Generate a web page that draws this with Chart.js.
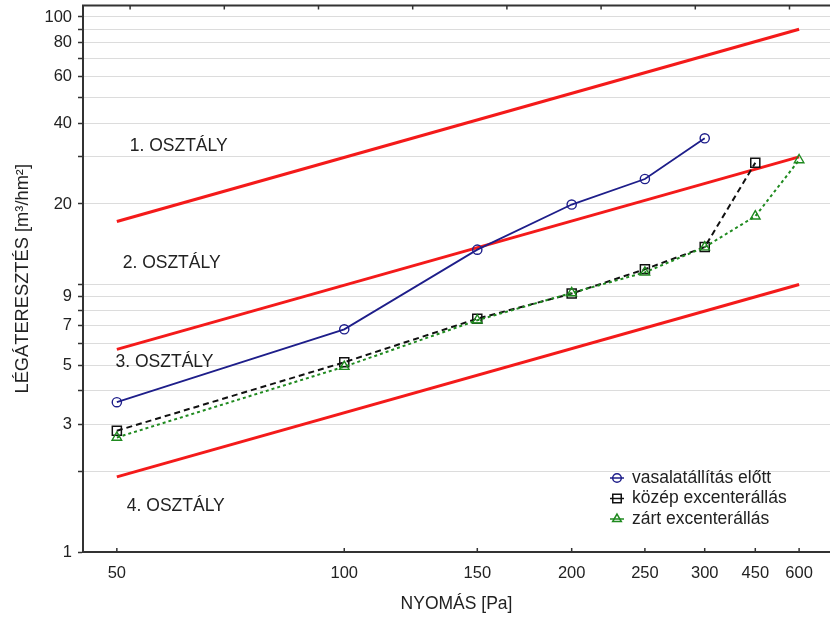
<!DOCTYPE html>
<html><head><meta charset="utf-8">
<script src="https://cdn.jsdelivr.net/npm/chart.js@4/dist/chart.umd.min.js"></script>
<style>html,body{margin:0;padding:0;background:#fff;}</style>
</head><body>
<canvas id="c" width="830" height="619" style="display:block;width:830px;height:619px"></canvas>
<script>
// ---- data ----
const xPositions = [50, 100, 150, 200, 250, 300, 350, 400];
const xTickLabels = ['50', '100', '150', '200', '250', '300', '450', '600'];
const yGridTicks = [1, 2, 3, 4, 5, 6, 7, 8, 9, 10, 20, 30, 40, 50, 60, 70, 80, 90, 100];
const yLabeledTicks = [1, 3, 5, 7, 9, 20, 40, 60, 80, 100];
const topTickValues = [1, 2, 3, 4, 5, 6, 7, 8];
const seriesNames = ['vasalatállítás előtt', 'közép excenterállás', 'zárt excenterállás'];
const beforeX = [50, 100, 150, 200, 250, 300];
const beforeVals = [3.63, 6.8, 13.5, 19.9, 24.8, 35.2];
const middleX = [50, 100, 150, 200, 250, 300, 350];
const middleVals = [2.84, 5.12, 7.45, 9.25, 11.4, 13.8, 28.5];
const closedX = [50, 100, 150, 200, 250, 300, 350, 400];
const closedVals = [2.68, 4.93, 7.35, 9.3, 11.1, 13.8, 18.0, 29.2];
const classLineX = [50, 400];
const class1Line = [17.2, 90];
const class2Line = [5.72, 30];
const class3Line = [1.91, 10];
const classLabels = ['1. OSZTÁLY', '2. OSZTÁLY', '3. OSZTÁLY', '4. OSZTÁLY'];
const classLabelX = [52, 50.9, 49.8, 51.55];
const classLabelY = [32.9, 11.98, 5.12, 1.486];

const FONT = '"Liberation Sans", Arial, sans-serif';
const pts = (xs, ys) => xs.map((x, i) => ({x: x, y: ys[i]}));

const BLUE = '#1e1e8a', BLACK = '#111111', GREEN = '#1f8a1f', RED = '#f41a1a';

const series = [
  {label: seriesNames[0], data: pts(beforeX, beforeVals), borderColor: BLUE, borderWidth: 1.8,
   pointStyle: 'circle', pointRadius: 4.6, pointBorderWidth: 1.4, pointBorderColor: BLUE,
   pointBackgroundColor: 'rgba(0,0,0,0)', order: 1},
  {label: seriesNames[1], data: pts(middleX, middleVals), borderColor: BLACK, borderWidth: 2,
   borderDash: [6, 4], pointStyle: 'rect', pointRadius: 6.4, pointBorderWidth: 1.5, pointBorderColor: BLACK,
   pointBackgroundColor: 'rgba(0,0,0,0)', order: 3},
  {label: seriesNames[2], data: pts(closedX, closedVals), borderColor: GREEN, borderWidth: 2,
   borderDash: [3, 3], pointStyle: 'triangle', pointRadius: 5.5, pointBorderWidth: 1.4, pointBorderColor: GREEN,
   pointBackgroundColor: 'rgba(0,0,0,0)', order: 2}
];
const classLines = [class1Line, class2Line, class3Line].map((ys, i) => ({
  label: 'class' + (i + 1), data: pts(classLineX, ys), borderColor: RED, borderWidth: 3,
  pointRadius: 0, order: 10
}));

function drawMarker(ctx, style, x, y, r) {
  ctx.beginPath();
  if (style === 'circle') {
    ctx.arc(x, y, r, 0, Math.PI * 2);
  } else if (style === 'rect') {
    const s = Math.SQRT1_2 * r;
    ctx.rect(x - s, y - s, 2 * s, 2 * s);
  } else if (style === 'triangle') {
    ctx.moveTo(x, y - r);
    ctx.lineTo(x + r * 0.866, y + r * 0.5);
    ctx.lineTo(x - r * 0.866, y + r * 0.5);
    ctx.closePath();
  }
  ctx.stroke();
}

const decor = {
  id: 'decor',
  afterDraw(chart) {
    const {ctx, chartArea: a, scales} = chart;
    const x = scales.x, y = scales.y, xTop = scales.xTop;
    ctx.save();
    // class labels
    ctx.font = '17.5px ' + FONT;
    ctx.fillStyle = '#222';
    ctx.textAlign = 'left';
    ctx.textBaseline = 'middle';
    classLabels.forEach((t, i) => ctx.fillText(t, x.getPixelForValue(classLabelX[i]), y.getPixelForValue(classLabelY[i])));
    // top frame line + ticks
    ctx.strokeStyle = '#333';
    ctx.lineWidth = 2;
    ctx.beginPath(); ctx.moveTo(a.left - 1, a.top); ctx.lineTo(a.right, a.top); ctx.stroke();
    ctx.lineWidth = 1.5;
    topTickValues.forEach(v => {
      const px = xTop.getPixelForValue(v);
      ctx.beginPath(); ctx.moveTo(px, a.top); ctx.lineTo(px, a.top + 4); ctx.stroke();
    });
    // bottom ticks (inward)
    xPositions.forEach(v => {
      const px = x.getPixelForValue(v);
      ctx.beginPath(); ctx.moveTo(px, a.bottom); ctx.lineTo(px, a.bottom - 4); ctx.stroke();
    });
    // legend
    const lx = a.right - 213, tx = a.right - 198;
    let ly = a.bottom - 74;
    [0, 1, 2].forEach(i => {
      const ds = chart.data.datasets[i];
      ctx.strokeStyle = ds.borderColor;
      ctx.lineWidth = 1.5;
      ctx.setLineDash([]);
      ctx.beginPath(); ctx.moveTo(lx - 7, ly); ctx.lineTo(lx + 7, ly); ctx.stroke();
      drawMarker(ctx, ds.pointStyle, lx, ly, ds.pointStyle === 'rect' ? 6 : (ds.pointStyle === 'triangle' ? 5 : 4.3));
      ctx.fillStyle = '#222';
      ctx.font = '17.5px ' + FONT;
      ctx.fillText(ds.label, tx, ly);
      ly += 20.5;
    });
    ctx.restore();
  }
};

new Chart(document.getElementById('c'), {
  type: 'line',
  data: {datasets: series.concat(classLines)},
  options: {
    responsive: false,
    animation: false,
    devicePixelRatio: 1,
    layout: {autoPadding: false, padding: {top: 5.5, left: 0, right: 0, bottom: 0}},
    elements: {line: {tension: 0, fill: false}},
    plugins: {legend: {display: false}, tooltip: {enabled: false}},
    scales: {
      x: {
        type: 'logarithmic', position: 'bottom', min: 45.1, max: 439.5,
        afterBuildTicks: s => { s.ticks = xPositions.map(v => ({value: v})); },
        afterFit: s => { s.height = 67; s.paddingLeft = 0; s.paddingRight = 0; },
        grid: {display: false, drawTicks: false},
        border: {display: true, color: '#333', width: 2},
        ticks: {autoSkip: false, maxRotation: 0, minRotation: 0, padding: 12, color: '#222',
                font: {family: FONT, size: 16.5},
                callback: v => xTickLabels[xPositions.indexOf(v)]},
        title: {display: true, text: 'NYOMÁS [Pa]', color: '#222', font: {family: FONT, size: 17.5},
                padding: {top: 0, bottom: 4}}
      },
      xTop: {
        type: 'linear', position: 'top', display: false, min: 0.5, max: 8.43
      },
      y: {
        type: 'logarithmic', position: 'left', min: 1, max: 110.4,
        afterBuildTicks: s => { s.ticks = yGridTicks.map(v => ({value: v})); },
        afterFit: s => { s.width = 83; s.paddingTop = 0; s.paddingBottom = 0; },
        grid: {color: '#dcdcdc', lineWidth: 1, tickColor: '#333', tickLength: 5, tickWidth: 1.5, drawTicks: true},
        border: {display: true, color: '#333', width: 2},
        ticks: {autoSkip: false, padding: 6, color: '#222', font: {family: FONT, size: 16.5},
                callback: v => yLabeledTicks.includes(v) ? String(v) : ''},
        title: {display: true, text: 'LÉGÁTERESZTÉS [m³/hm²]', color: '#222', font: {family: FONT, size: 18.3},
                padding: {top: 12, bottom: 0}}
      }
    }
  },
  plugins: [decor]
});
</script>
</body></html>
